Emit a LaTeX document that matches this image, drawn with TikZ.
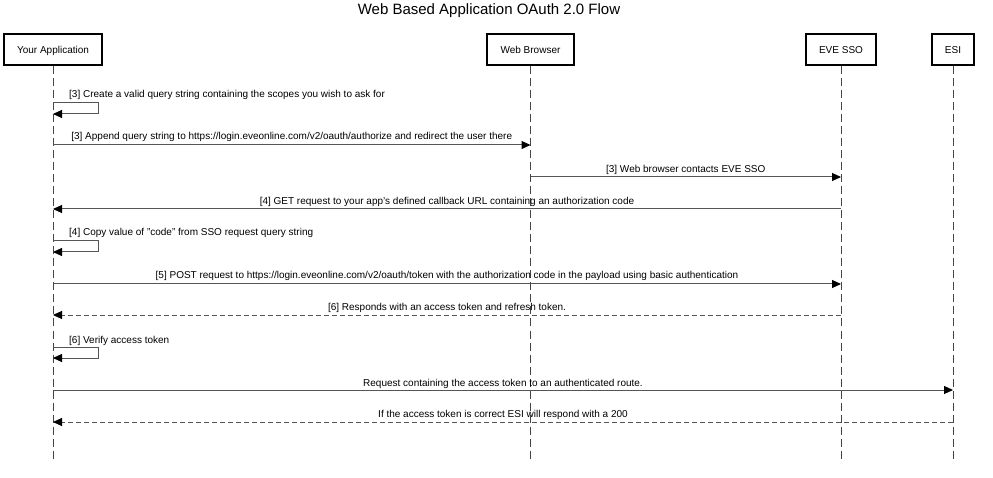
\documentclass[tikz,border=0pt]{standalone}
\usepackage{fontspec}
\setmainfont{Liberation Sans}
\usetikzlibrary{arrows.meta}
\definecolor{ln}{HTML}{555555}
\definecolor{ll}{HTML}{444444}
\begin{document}
\begin{tikzpicture}[x=1pt,y=-1pt,
  actor/.style={draw=black,line width=2pt,fill=white,minimum height=31pt,inner sep=0pt,text height=9pt,text depth=1pt,font=\fontsize{10}{12}\selectfont},
  life/.style={draw=ll,line width=1pt,dash pattern=on 8pt off 4pt},
  msg/.style={draw=ln,line width=1pt,-{Triangle[length=9pt,width=8pt,color=black]}},
  ret/.style={msg,dash pattern=on 5pt off 3pt},
  lbl/.style={font=\fontsize{10}{12}\selectfont,inner sep=0pt,anchor=base}]
\useasboundingbox (0,0) rectangle (993,478);
\node[font=\fontsize{15}{18}\selectfont] (title) at (489,11) {Web Based Application OAuth 2.0 Flow};
\node[actor,minimum width=98pt] (app) at (53,50) {Your Application};
\node[actor,minimum width=87pt] (web) at (530.5,50) {Web Browser};
\node[actor,minimum width=70pt] (sso) at (841,50) {EVE SSO};
\node[actor,minimum width=42pt] (esi) at (953,50) {ESI};
\coordinate (appE) at (53,460);
\coordinate (webE) at (530.5,460);
\coordinate (ssoE) at (841,460);
\coordinate (esiE) at (953,460);
\draw[life] (app.south) -- (appE);
\draw[life] (web.south) -- (webE);
\draw[life] (sso.south) -- (ssoE);
\draw[life] (esi.south) -- (esiE);
% 1 self
\coordinate (s1a) at (53,103); \coordinate (s1b) at (53,114);
\draw[msg] (s1a) -- (98,103) -- (98,114) -- (s1b);
\node[lbl,anchor=base west] (l1) at (69,98) {[3] Create a valid query string containing the scopes you wish to ask for};
% 2
\coordinate (m2a) at (53,145); \coordinate (m2b) at (530.5,145);
\draw[msg] (m2a) -- (m2b);
\node[lbl] (l2) at (291.75,140) {[3] Append query string to https://login.eveonline.com/v2/oauth/authorize and redirect the user there};
% 3
\coordinate (m3a) at (530.5,177); \coordinate (m3b) at (841,177);
\draw[msg] (m3a) -- (m3b);
\node[lbl] (l3) at (685.75,173) {[3] Web browser contacts EVE SSO};
% 4
\coordinate (m4a) at (841,209); \coordinate (m4b) at (53,209);
\draw[msg] (m4a) -- (m4b);
\node[lbl] (l4) at (447,205) {[4] GET request to your app's defined callback URL containing an authorization code};
% 5 self
\coordinate (s5a) at (53,241); \coordinate (s5b) at (53,252);
\draw[msg] (s5a) -- (98,241) -- (98,252) -- (s5b);
\node[lbl,anchor=base west] (l5) at (69,236) {[4] Copy value of "code" from SSO request query string};
% 6
\coordinate (m6a) at (53,284); \coordinate (m6b) at (841,284);
\draw[msg] (m6a) -- (m6b);
\node[lbl] (l6) at (447,279) {[5] POST request to https://login.eveonline.com/v2/oauth/token with the authorization code in the payload using basic authentication};
% 7
\coordinate (m7a) at (841,315); \coordinate (m7b) at (53,315);
\draw[ret] (m7a) -- (m7b);
\node[lbl] (l7) at (447,310) {[6] Responds with an access token and refresh token.};
% 8 self
\coordinate (s8a) at (53,347); \coordinate (s8b) at (53,358);
\draw[msg] (s8a) -- (98,347) -- (98,358) -- (s8b);
\node[lbl,anchor=base west] (l8) at (69,343) {[6] Verify access token};
% 9
\coordinate (m9a) at (53,390); \coordinate (m9b) at (953,390);
\draw[msg] (m9a) -- (m9b);
\node[lbl] (l9) at (503,386) {Request containing the access token to an authenticated route.};
% 10
\coordinate (m10a) at (953,422); \coordinate (m10b) at (53,422);
\draw[ret] (m10a) -- (m10b);
\node[lbl] (l10) at (503,417) {If the access token is correct ESI will respond with a 200};
\end{tikzpicture}
\end{document}
